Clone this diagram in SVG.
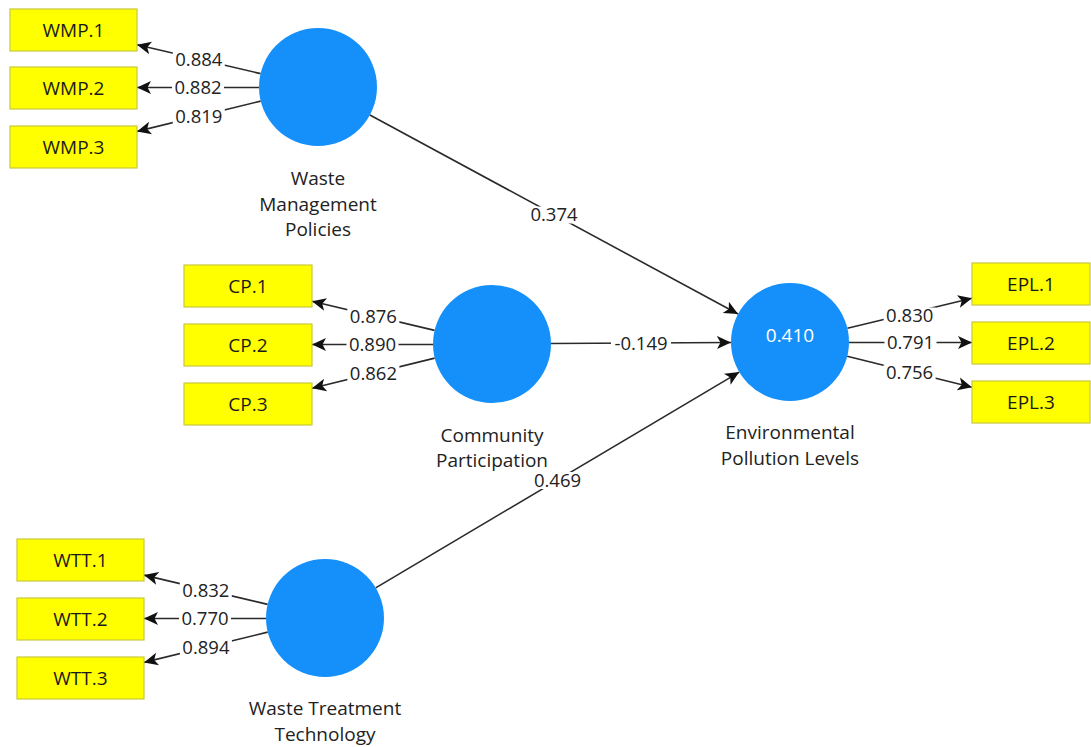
<svg xmlns="http://www.w3.org/2000/svg" width="1091" height="747" viewBox="0 0 1091 747">
  <style>
    text { font-family: "Open Sans", "Noto Sans", "Liberation Sans", sans-serif; font-size: 19px; }
    .lv { fill: #1590FA; }
    .mv { fill: #FFFF00; stroke: #C8C83C; stroke-width: 1.2; }
    .mvt { fill: #1a1a1a; text-anchor: middle; }
    .name { fill: #222; text-anchor: middle; }
    .r2 { fill: #ffffff; text-anchor: middle; }
    .edge { stroke: #2a2a2a; stroke-width: 1.6; fill: none; marker-end: url(#arrow); }
    .bg { fill: #ffffff; }
    .w { fill: #222; text-anchor: middle; font-size: 18.5px; }
  </style>
  <defs>
    <marker id="arrow" markerUnits="userSpaceOnUse" markerWidth="16" markerHeight="16" refX="14" refY="8" orient="auto">
      <path d="M0,1.5 L14,8 L0,14.5 L3.5,8 z" fill="#111"/>
    </marker>
  </defs>
  <rect width="1091" height="747" fill="#ffffff"/>

  <!-- connectors -->
  <g id="connectors">
    <line class="edge" x1="260.6" y1="73.6" x2="137" y2="44.8"/>
    <line class="edge" x1="259" y1="87.5" x2="137" y2="87.5"/>
    <line class="edge" x1="260.7" y1="101.1" x2="137" y2="131.4"/>
    <line class="edge" x1="434.6" y1="330.4" x2="312" y2="301.2"/>
    <line class="edge" x1="433" y1="344.5" x2="312" y2="344.5"/>
    <line class="edge" x1="434.7" y1="358.1" x2="312" y2="388.3"/>
    <line class="edge" x1="847.4" y1="328.2" x2="972" y2="298.2"/>
    <line class="edge" x1="849" y1="342.5" x2="972" y2="342.5"/>
    <line class="edge" x1="847.2" y1="356.3" x2="972" y2="387.3"/>
    <line class="edge" x1="267.6" y1="604.4" x2="144" y2="575.1"/>
    <line class="edge" x1="266" y1="618.5" x2="144" y2="618.5"/>
    <line class="edge" x1="267.7" y1="632.1" x2="144" y2="662.4"/>
    <line class="edge" x1="369.9" y1="115" x2="738.1" y2="314"/>
    <line class="edge" x1="551" y1="343.5" x2="731" y2="342.5"/>
    <line class="edge" x1="375.7" y1="587.9" x2="739.3" y2="372.1"/>

    <!-- coefficient labels on white plates -->
    <rect class="bg" x="172.8" y="51.5" width="52" height="17"/>
    <text class="w" x="198.8" y="66">0.884</text>
    <rect class="bg" x="172" y="79" width="52" height="17"/>
    <text class="w" x="198" y="94">0.882</text>
    <rect class="bg" x="172.8" y="108.5" width="52" height="17"/>
    <text class="w" x="198.8" y="123">0.819</text>
    <rect class="bg" x="347.3" y="308.5" width="52" height="17"/>
    <text class="w" x="373.3" y="323">0.876</text>
    <rect class="bg" x="346.5" y="336.5" width="52" height="17"/>
    <text class="w" x="372.5" y="351">0.890</text>
    <rect class="bg" x="347.4" y="365.5" width="52" height="17"/>
    <text class="w" x="373.4" y="380">0.862</text>
    <rect class="bg" x="883.7" y="307.5" width="52" height="17"/>
    <text class="w" x="909.7" y="322">0.830</text>
    <rect class="bg" x="884.5" y="334.5" width="52" height="17"/>
    <text class="w" x="910.5" y="349">0.791</text>
    <rect class="bg" x="883.6" y="364.5" width="52" height="17"/>
    <text class="w" x="909.6" y="379">0.756</text>
    <rect class="bg" x="179.8" y="582" width="52" height="17"/>
    <text class="w" x="205.8" y="596.5">0.832</text>
    <rect class="bg" x="179" y="610.5" width="52" height="17"/>
    <text class="w" x="205" y="625">0.770</text>
    <rect class="bg" x="179.9" y="639.5" width="52" height="17"/>
    <text class="w" x="205.9" y="654">0.894</text>
    <rect class="bg" x="528" y="206.5" width="52" height="17"/>
    <text class="w" x="554" y="221">0.374</text>
    <rect class="bg" x="611" y="335" width="60" height="17"/>
    <text class="w" x="641" y="349.5">-0.149</text>
    <rect class="bg" x="531.5" y="472" width="52" height="17"/>
    <text class="w" x="557.5" y="486.5">0.469</text>
  </g>

  <!-- Waste Management Policies -->
  <g id="wmp">
    <circle class="lv" cx="318" cy="87" r="59"/>
    <text class="name" x="318" y="185">Waste</text>
    <text class="name" x="318" y="210.5">Management</text>
    <text class="name" x="318" y="236">Policies</text>
  </g>
  <g id="wmp1"><rect class="mv" x="10" y="9" width="127" height="42"/><text class="mvt" x="73.5" y="37">WMP.1</text></g>
  <g id="wmp2"><rect class="mv" x="10" y="67" width="127" height="42"/><text class="mvt" x="73.5" y="95">WMP.2</text></g>
  <g id="wmp3"><rect class="mv" x="10" y="126" width="127" height="42"/><text class="mvt" x="73.5" y="154">WMP.3</text></g>

  <!-- Community Participation -->
  <g id="cp">
    <circle class="lv" cx="492" cy="344" r="59"/>
    <text class="name" x="492" y="442">Community</text>
    <text class="name" x="492" y="467">Participation</text>
  </g>
  <g id="cp1"><rect class="mv" x="184" y="265" width="128" height="42"/><text class="mvt" x="248" y="293">CP.1</text></g>
  <g id="cp2"><rect class="mv" x="184" y="324" width="128" height="42"/><text class="mvt" x="248" y="352">CP.2</text></g>
  <g id="cp3"><rect class="mv" x="184" y="383" width="128" height="42"/><text class="mvt" x="248" y="411">CP.3</text></g>

  <!-- Environmental Pollution Levels -->
  <g id="epl">
    <circle class="lv" cx="790" cy="342" r="59"/>
    <text class="r2" x="790" y="342">0.410</text>
    <text class="name" x="790" y="439">Environmental</text>
    <text class="name" x="790" y="465">Pollution Levels</text>
  </g>
  <g id="epl1"><rect class="mv" x="972" y="263" width="118" height="42"/><text class="mvt" x="1031" y="291">EPL.1</text></g>
  <g id="epl2"><rect class="mv" x="972" y="322" width="118" height="42"/><text class="mvt" x="1031" y="350">EPL.2</text></g>
  <g id="epl3"><rect class="mv" x="972" y="381" width="118" height="42"/><text class="mvt" x="1031" y="409">EPL.3</text></g>

  <!-- Waste Treatment Technology -->
  <g id="wtt">
    <circle class="lv" cx="325" cy="618" r="59"/>
    <text class="name" x="325" y="715">Waste Treatment</text>
    <text class="name" x="325" y="741">Technology</text>
  </g>
  <g id="wtt1"><rect class="mv" x="17" y="539" width="127" height="42"/><text class="mvt" x="80.5" y="567">WTT.1</text></g>
  <g id="wtt2"><rect class="mv" x="17" y="598" width="127" height="42"/><text class="mvt" x="80.5" y="626">WTT.2</text></g>
  <g id="wtt3"><rect class="mv" x="17" y="657" width="127" height="42"/><text class="mvt" x="80.5" y="685">WTT.3</text></g>
</svg>
